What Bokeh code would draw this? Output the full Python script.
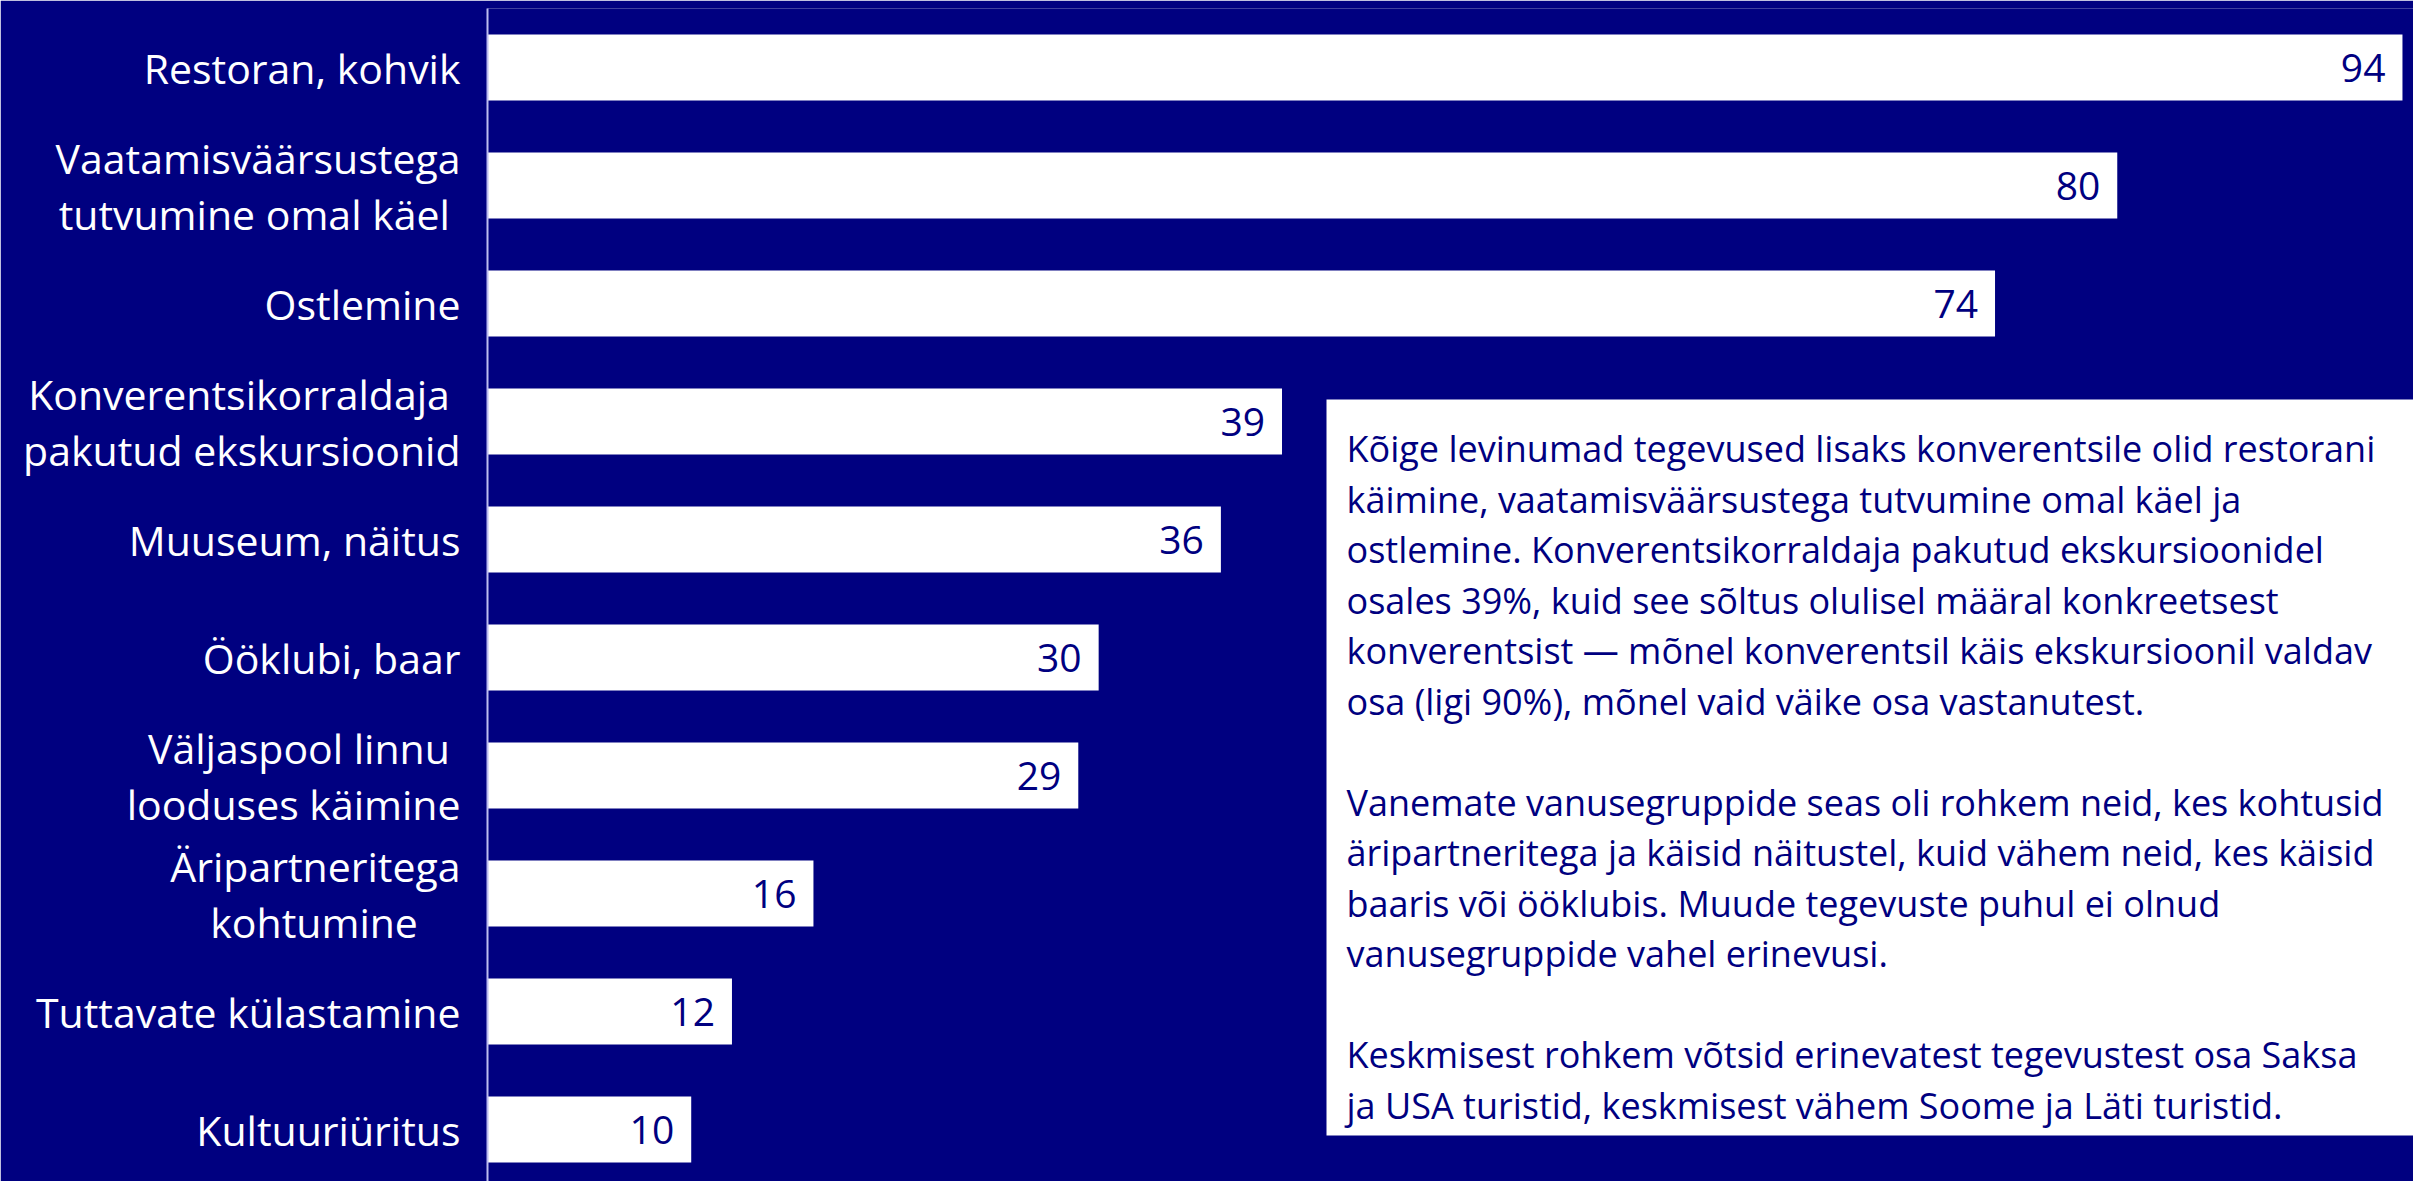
from bokeh.plotting import figure
from bokeh.models import Range1d, FixedTicker, BoxAnnotation, ColumnDataSource
from bokeh.core.properties import value
from bokeh.embed import file_html
from bokeh.resources import INLINE

# ---- data ----
categories = [
    "Restoran, kohvik",
    "Vaatamisväärsustega\ntutvumine omal käel ",
    "Ostlemine",
    "Konverentsikorraldaja \npakutud ekskursioonid",
    "Muuseum, näitus",
    "Ööklubi, baar",
    "Väljaspool linnu \nlooduses käimine",
    "Äripartneritega\nkohtumine    ",
    "Tuttavate külastamine",
    "Kultuuriüritus",
]
values = [94, 80, 74, 39, 36, 30, 29, 16, 12, 10]

note_lines = [
    "Kõige levinumad tegevused lisaks konverentsile olid restorani",
    "käimine, vaatamisväärsustega tutvumine omal käel ja",
    "ostlemine. Konverentsikorraldaja pakutud ekskursioonidel",
    "osales 39%, kuid see sõltus olulisel määral konkreetsest",
    "konverentsist — mõnel konverentsil käis ekskursioonil valdav",
    "osa (ligi 90%), mõnel vaid väike osa vastanutest.",
    "",
    "Vanemate vanusegruppide seas oli rohkem neid, kes kohtusid",
    "äripartneritega ja käisid näitustel, kuid vähem neid, kes käisid",
    "baaris või ööklubis.  Muude tegevuste puhul ei olnud",
    "vanusegruppide vahel erinevusi.",
    "",
    "Keskmisest rohkem võtsid erinevatest tegevustest osa Saksa",
    "ja USA turistid, keskmisest vähem Soome ja Läti turistid.",
]

NAVY = "#000080"
FONT = "Open Sans"

# ---- geometry helpers (pixel -> data) ----
AXIS_X = 487          # canvas x of the value axis
PX_PER_UNIT = 20.372  # px per percentage point
ROW0_Y = 67           # canvas y of first bar centre
ROW_STEP = 118        # px per category row
W, H = 2413, 1181
TOP = 8

def dx(px):
    return (px - AXIS_X) / PX_PER_UNIT

def dy(py):
    return (py - ROW0_Y) / ROW_STEP

idx = list(range(len(categories)))
src = ColumnDataSource(dict(y=idx, v=values, lab=[str(v) for v in values]))

p = figure(
    width=W, height=H,
    x_range=Range1d(0, dx(W)),
    y_range=Range1d(dy(H), dy(TOP)),
    output_backend="svg", toolbar_location=None,
    min_border=0, min_border_left=AXIS_X, min_border_top=TOP,
    background_fill_color=NAVY, border_fill_color=NAVY,
    outline_line_color=None,
)
p.xaxis.visible = False
p.xgrid.visible = False
p.ygrid.visible = False

yax = p.yaxis[0]
yax.ticker = FixedTicker(ticks=idx)
yax.major_label_overrides = {i: c for i, c in enumerate(categories)}
yax.major_tick_line_color = None
yax.minor_tick_line_color = None
yax.major_tick_out = 0
yax.major_tick_in = 0
yax.axis_line_color = "#bcbcf0"
yax.axis_line_width = 2
yax.major_label_standoff = 27
yax.major_label_text_color = "white"
yax.major_label_text_font = FONT
yax.major_label_text_font_size = "41px"
yax.major_label_text_line_height = 1.0

# bars
p.hbar(y="y", right="v", left=0, height=0.56, source=src,
       fill_color="white", line_color=None)

# value labels
p.text(x="v", y="y", text="lab", source=src, x_offset=-17,
       text_align="right", text_baseline="middle",
       text_color=NAVY, text_font=value(FONT), text_font_size="39px")

# commentary box
box = BoxAnnotation(left=dx(1326), right=dx(W + 50), top=dy(399), bottom=dy(1135),
                    fill_color="white", fill_alpha=1.0, line_color=None, level="underlay")
p.add_layout(box)

first_base = 448
step = 50.5
nx, ny, nt = [], [], []
for k, line in enumerate(note_lines):
    if line:
        nx.append(dx(1346))
        ny.append(dy(first_base + k * step))
        nt.append(line)
p.text(x=nx, y=ny, text=nt, text_align="left", text_baseline="alphabetic",
       text_color=NAVY, text_font=value(FONT), text_font_size="36px")

open("out.html", "w").write(file_html(p, INLINE))
